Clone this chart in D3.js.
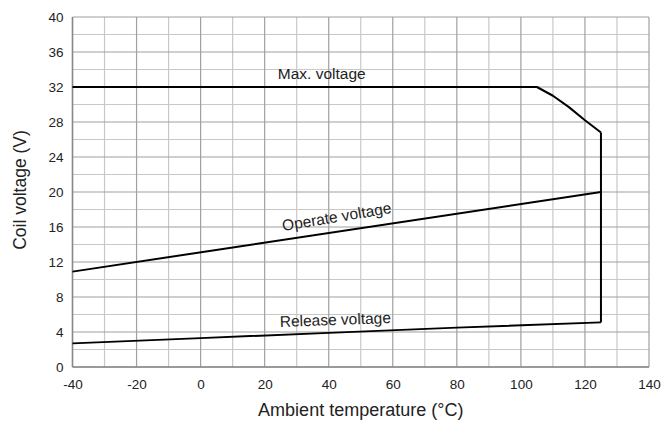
<!DOCTYPE html>
<html><head><meta charset="utf-8">
<script src="https://cdn.jsdelivr.net/npm/d3@7"></script>
<style>body{margin:0;background:#fff}svg{display:block}text{font-family:"Liberation Sans",Arial,sans-serif;fill:#222}</style>
</head><body><svg id="c" width="664" height="425"></svg>
<script>
const xTicks = [-40,-20,0,20,40,60,80,100,120,140];
const yTicks = [0,4,8,12,16,20,24,28,32,36,40];
const maxT = [-40,105,110,115,120,125];
const maxV = [32,32,31.0,29.7,28.2,26.8];
const opT = [-40,125];
const opV = [10.9,20.0];
const relT = [-40,0,40,80,125];
const relV = [2.7,3.3,3.9,4.5,5.1];
const edgeT = [125,125];
const edgeV = [5.1,26.8];
const labels = ["Max. voltage","Operate voltage","Release voltage"];

const svg = d3.select("#c");
const m = {l:72.5,r:649,t:17,b:367};
const x = d3.scaleLinear().domain([-40,140]).range([m.l,m.r]);
const y = d3.scaleLinear().domain([0,40]).range([m.b,m.t]);

const g = svg.append("g");
g.selectAll(".vmin").data(d3.range(-30,140,20)).enter().append("line")
 .attr("x1",d=>x(d)).attr("x2",d=>x(d)).attr("y1",y(0)).attr("y2",y(40))
 .attr("stroke","#c8c8c8").attr("stroke-width",1.2);
g.selectAll(".hmin").data(d3.range(2,40,4)).enter().append("line")
 .attr("y1",d=>y(d)).attr("y2",d=>y(d)).attr("x1",x(-40)).attr("x2",x(140))
 .attr("stroke","#c8c8c8").attr("stroke-width",1.2);
g.selectAll(".vmaj").data(xTicks).enter().append("line")
 .attr("x1",d=>x(d)).attr("x2",d=>x(d)).attr("y1",y(0)).attr("y2",y(40))
 .attr("stroke","#a0a0a0").attr("stroke-width",1.2);
g.selectAll(".hmaj").data(yTicks).enter().append("line")
 .attr("y1",d=>y(d)).attr("y2",d=>y(d)).attr("x1",x(-40)).attr("x2",x(140))
 .attr("stroke","#a0a0a0").attr("stroke-width",1.2);
g.append("line").attr("x1",x(-40)).attr("x2",x(-40)).attr("y1",y(0)).attr("y2",y(40)).attr("stroke","#888").attr("stroke-width",1.5);
g.append("line").attr("x1",x(-40)).attr("x2",x(140)).attr("y1",y(0)).attr("y2",y(0)).attr("stroke","#888").attr("stroke-width",1.5);

const xa = svg.append("g").attr("transform",`translate(0,${y(0)})`)
 .call(d3.axisBottom(x).tickValues(xTicks).tickSize(0).tickPadding(12).tickFormat(d=>String(d)));
const ya = svg.append("g").attr("transform",`translate(${x(-40)},0)`)
 .call(d3.axisLeft(y).tickValues(yTicks).tickSize(0).tickPadding(9).tickFormat(d=>String(d)));
[xa,ya].forEach(a=>{a.select(".domain").remove();a.selectAll("text").attr("font-size",13.5).attr("fill","#333").attr("font-family","Liberation Sans, Arial, sans-serif");});

const line = d3.line().x(d=>x(d[0])).y(d=>y(d[1]));
const series = [d3.zip(maxT,maxV), d3.zip(opT,opV), d3.zip(relT,relV), d3.zip(edgeT,edgeV)];
svg.selectAll(".s").data(series).enter().append("path")
 .attr("d",line).attr("fill","none").attr("stroke","#000").attr("stroke-width",2).attr("stroke-linejoin","round");

const lab = [
 {t:labels[0], x:321.7, y:79, a:0},
 {t:labels[1], x:337.5, y:222, a:-9.5},
 {t:labels[2], x:335.5, y:325, a:-2}
];
svg.selectAll(".lab").data(lab).enter().append("text")
 .attr("transform",d=>`translate(${d.x},${d.y}) rotate(${d.a})`)
 .attr("text-anchor","middle").attr("font-size",15.5).attr("fill","#333").text(d=>d.t);

svg.append("text").attr("x",(m.l+m.r)/2).attr("y",416).attr("text-anchor","middle")
 .attr("font-size",18).attr("fill","#333").text("Ambient temperature (°C)");
svg.append("text").attr("transform",`translate(26,190) rotate(-90)`).attr("text-anchor","middle")
 .attr("font-size",17.5).attr("fill","#333").text("Coil voltage (V)");
</script></body></html>
